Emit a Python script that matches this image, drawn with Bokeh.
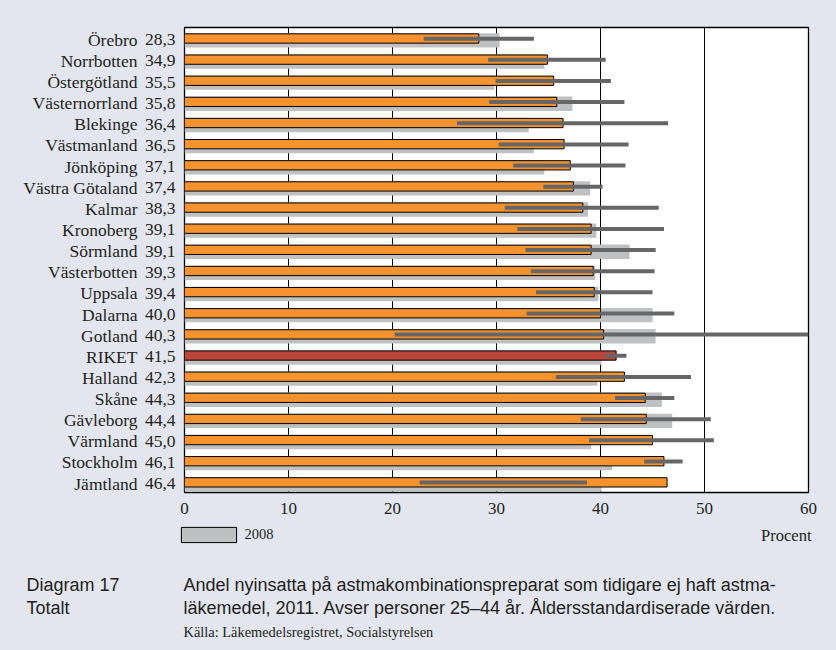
from bokeh.plotting import figure
from bokeh.layouts import column
from bokeh.models import (ColumnDataSource, Range1d, FixedTicker, Label, LinearAxis,
                          Legend, LegendItem)
from bokeh.embed import file_html
from bokeh.resources import INLINE

regions = ["Örebro", "Norrbotten", "Östergötland", "Västernorrland", "Blekinge",
           "Västmanland", "Jönköping", "Västra Götaland", "Kalmar", "Kronoberg",
           "Sörmland", "Västerbotten", "Uppsala", "Dalarna", "Gotland", "RIKET",
           "Halland", "Skåne", "Gävleborg", "Värmland", "Stockholm", "Jämtland"]
v2011 = [28.3, 34.9, 35.5, 35.8, 36.4, 36.5, 37.1, 37.4, 38.3, 39.1, 39.1, 39.3,
         39.4, 40.0, 40.3, 41.5, 42.3, 44.3, 44.4, 45.0, 46.1, 46.4]
v2008 = [30.3, 34.6, 29.8, 37.3, 33.1, 33.6, 34.6, 39.0, 38.8, 39.6, 42.8, 39.5,
         39.8, 45.0, 45.3, 40.1, 39.7, 45.9, 46.9, 39.1, 41.1, 40.1]
ci_low = [23.0, 29.2, 29.9, 29.3, 26.2, 30.2, 31.6, 34.5, 30.8, 32.0, 32.8, 33.3,
          33.8, 32.9, 20.2, 40.5, 35.7, 41.4, 38.1, 38.9, 44.2, 22.6]
ci_high = [33.6, 40.5, 41.0, 42.3, 46.5, 42.7, 42.4, 40.2, 45.6, 46.1, 45.3, 45.2,
           45.0, 47.1, 60.4, 42.5, 48.7, 47.1, 50.6, 50.9, 47.9, 38.7]
x_ticks = [0, 10, 20, 30, 40, 50, 60]
legend_label = "2008"
unit_label = "Procent"
cap_left = ["Diagram 17", "Totalt"]
cap_lines = ["Andel nyinsatta på astmakombinationspreparat som tidigare ej haft astma-",
             "läkemedel, 2011. Avser personer 25–44 år. Åldersstandardiserade värden."]
source_text = "Källa: Läkemedelsregistret, Socialstyrelsen"

BG = "#E3E6EF"
ORANGE = "#F7932F"
RED = "#BB443B"
GREY = "#BFC0C2"
ERR = "#666666"
TXT = "#231F20"
SERIF = "Liberation Serif"
SANS = "Liberation Sans"

n = len(regions)
W = 836
FW, FH = 624, 465
L, T = 184, 27
B = 30
H1 = T + FH + B
H2 = 650 - H1
XMAX = 60.0

idx = list(range(n))
top = [i - 0.58 for i in idx]          # row top in data units (row height = 1)
src = ColumnDataSource(dict(
    v2011=v2011, v2008=v2008, lo=ci_low, hi=ci_high,
    y_or=[t + 0.52 for t in top],
    y_gr=[t + 0.61 for t in top],
    y_er=[t + 0.53 for t in top],
    col=[RED if r == "RIKET" else ORANGE for r in regions],
))

p = figure(width=W, height=H1, frame_width=FW, frame_height=FH,
           x_range=Range1d(0, XMAX), y_range=Range1d(n - 0.58, -0.58),
           output_backend="svg", toolbar_location=None,
           min_border_left=L, min_border_right=W - L - FW, min_border_top=T,
           min_border_bottom=B,
           background_fill_color="white", border_fill_color=BG,
           outline_line_color="black", outline_line_width=1.3)
p.frame_align = False

p.hbar(y="y_gr", left=0, right="v2008", height=0.68, source=src,
       fill_color=GREY, line_color=None)
p.hbar(y="y_or", left=0, right="v2011", height=0.44, source=src,
       fill_color="col", line_color="black", line_width=1)
p.hbar(y="y_er", left="lo", right="hi", height=0.19, source=src,
       fill_color=ERR, line_color=None)

# x axis
p.ygrid.grid_line_color = None
p.xaxis.ticker = FixedTicker(ticks=x_ticks)
p.xgrid.ticker = FixedTicker(ticks=x_ticks)
p.xgrid.grid_line_color = "black"
p.xgrid.grid_line_width = 1
p.xaxis.axis_line_color = None
p.xaxis.major_tick_line_color = None
p.xaxis.minor_tick_line_color = None
p.xaxis.major_tick_out = 0
p.xaxis.major_label_text_font = SERIF
p.xaxis.major_label_text_font_size = "17px"
p.xaxis.major_label_text_color = TXT
p.xaxis.major_label_standoff = 10

# y axes: values (inner) and region names (outer)
def style_y(ax, standoff):
    ax.ticker = FixedTicker(ticks=idx)
    ax.axis_line_color = None
    ax.major_tick_line_color = None
    ax.minor_tick_line_color = None
    ax.major_tick_out = 0
    ax.major_tick_in = 0
    ax.major_label_standoff = standoff
    ax.major_label_text_font = SERIF
    ax.major_label_text_font_size = "17.5px"
    ax.major_label_text_color = TXT

yv = p.yaxis[0]
style_y(yv, 9)
yv.major_label_overrides = {i: f"{v:.1f}".replace(".", ",") for i, v in zip(idx, v2011)}
yn = LinearAxis()
style_y(yn, 4)
yn.major_label_overrides = {i: r for i, r in zip(idx, regions)}
p.add_layout(yn, "left")

# lower panel: legend and caption (pixel coordinates of the page)
p2 = figure(width=W, height=H2, x_range=Range1d(0, W), y_range=Range1d(H2, 0),
            output_backend="svg", toolbar_location=None,
            x_axis_type=None, y_axis_type=None,
            min_border=0, min_border_left=0, min_border_right=0,
            min_border_top=0, min_border_bottom=0,
            background_fill_color=BG, border_fill_color=BG,
            outline_line_color=None)
p2.frame_align = False
p2.grid.visible = False

# invisible swatch renderer (lies outside the panel) used only for the legend
dummy = p2.rect(x=[-100], y=[-100], width=1, height=1, fill_color=GREY,
                line_color="black", line_width=1)
gw, gh = 69, 19
legend = Legend(items=[LegendItem(label=legend_label, renderers=[dummy])],
                location=(180.5 - 0.1 * gw, H2 - (526.5 - H1 - 0.1 * gh) - gh),
                orientation="horizontal",
                glyph_width=gw, glyph_height=gh, label_height=gh,
                label_standoff=2, padding=0, margin=0, spacing=0,
                border_line_color=None, background_fill_alpha=0,
                label_text_font=SERIF, label_text_font_size="14.5px",
                label_text_color=TXT)
p2.add_layout(legend, "center")

def add_label(text, px, py, font, size, align="left"):
    p2.add_layout(Label(x=px, y=py - H1, text=text, text_font=font,
                        text_font_size=size, text_color=TXT,
                        text_align=align, text_baseline="middle"))

add_label(unit_label, 811, 535, SERIF, "16.5px", align="right")
add_label(cap_left[0], 26, 584, SANS, "18px")
add_label(cap_left[1], 26, 607, SANS, "18px")
add_label(cap_lines[0], 183, 584, SANS, "18px")
add_label(cap_lines[1], 183, 607, SANS, "18px")
add_label(source_text, 183, 631, SERIF, "14.4px")

layout = column(p, p2, spacing=0)
html = file_html(layout, INLINE)
html = html.replace("<body>", '<body style="background-color:%s;">' % BG)
open("out.html", "w").write(html)
